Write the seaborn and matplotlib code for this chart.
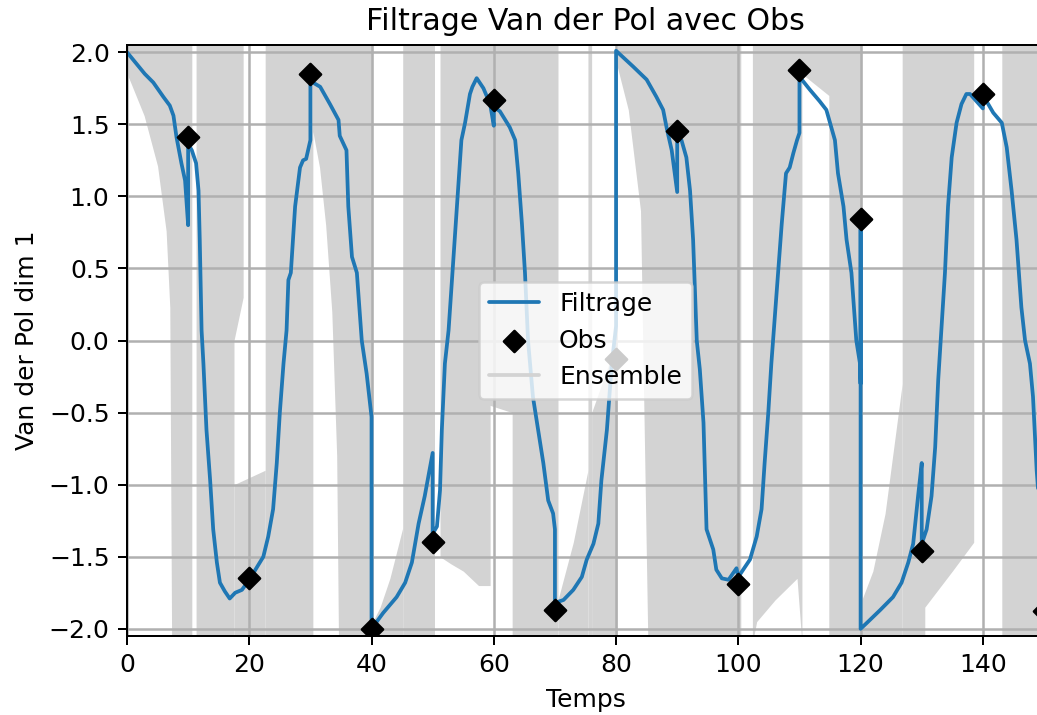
import numpy as np
import pandas as pd
import matplotlib
matplotlib.use("Agg")
import matplotlib.pyplot as plt
from matplotlib.lines import Line2D
import seaborn as sns

# observations (every 10 time units)
obs_t = [10, 20, 30, 40, 50, 60, 70, 80, 90, 100, 110, 120, 130, 140, 150]
obs_y = [1.41, -1.65, 1.85, -2.00, -1.40, 1.67, -1.87, -0.13, 1.45, -1.69,
         1.88, 0.84, -1.46, 1.71, -1.88]

# filtered trajectory (repeated times = analysis jumps)
filt_t = [0.0, 2.9, 4.3, 5.95, 7.0, 7.6, 8.1, 8.9, 9.5, 10.0, 10.0, 10.6, 11.3, 11.7,
          11.9, 12.2, 12.5, 13.0, 13.6, 14.1, 14.7, 15.2, 16.0, 16.8, 17.7, 18.8,
          20.0, 22.3, 23.1, 23.9, 24.5, 25.0, 25.6, 26.1, 26.4, 26.8, 27.5, 28.3,
          28.8, 29.3, 30.0, 30.0, 31.6, 33.2, 34.6, 34.8, 35.9, 36.2, 36.8, 37.6,
          38.4, 39.2, 40.0, 40.0, 41.9, 44.1, 45.5, 46.6, 47.7, 48.7, 50.0, 50.0,
          50.7, 51.2, 51.5, 52.0, 52.6, 53.6, 54.7, 55.3, 56.1, 56.5, 57.2, 58.3,
          59.4, 60.0, 60.0, 61.0, 62.6, 63.5, 64.0, 64.6, 65.1, 65.6, 66.4, 67.5,
          68.1, 68.9, 69.7, 70.0, 70.0, 71.4, 73.0, 74.4, 75.2, 76.3, 77.1, 77.6,
          78.5, 79.3, 80.0, 80.0, 82.8, 85.0, 86.6, 87.7, 88.3, 89.1, 90.0, 90.0,
          90.7, 91.5, 92.1, 92.6, 93.2, 93.7, 94.3, 94.8, 95.9, 96.4, 97.3, 98.4,
          99.7, 100.0, 101.9, 103.0, 103.8, 104.3, 104.9, 105.4, 105.8, 106.5,
          107.1, 107.8, 108.4, 109.0, 109.6, 110.0, 110.0, 111.7, 113.3, 114.4,
          115.0, 115.8, 116.3, 117.2, 117.7, 118.5, 119.3, 119.9, 120.0, 120.0,
          120.0, 121.0, 123.2, 125.3, 126.7, 127.8, 128.6, 129.4, 130.0, 130.0,
          130.8, 131.6, 132.2, 132.7, 133.2, 133.8, 134.3, 134.9, 135.7, 136.5,
          137.3, 137.9, 140.0, 140.0, 140.6, 141.7, 143.1, 143.9, 144.7, 145.5,
          146.3, 146.9, 147.7, 148.2, 148.8, 149.5, 150.0, 150.0]
filt_y = [2.00, 1.85, 1.79, 1.69, 1.63, 1.56, 1.41, 1.23, 1.11, 0.80, 1.36, 1.32, 1.23, 1.04,
          0.70, 0.07, -0.16, -0.62, -0.97, -1.31, -1.54, -1.68, -1.74, -1.79, -1.75, -1.73,
          -1.66, -1.50, -1.36, -1.17, -0.85, -0.50, -0.16, 0.07, 0.42, 0.47, 0.93, 1.20,
          1.25, 1.26, 1.39, 1.80, 1.76, 1.64, 1.53, 1.42, 1.32, 0.93, 0.58, 0.47,
          0.00, -0.23, -0.53, -2.00, -1.89, -1.78, -1.68, -1.54, -1.27, -1.08, -0.78, -1.34,
          -1.29, -1.04, -0.62, -0.16, 0.07, 0.70, 1.39, 1.51, 1.71, 1.76, 1.82, 1.75,
          1.64, 1.49, 1.62, 1.59, 1.48, 1.39, 1.16, 0.81, 0.47, 0.00, -0.39, -0.69,
          -0.85, -1.11, -1.20, -1.31, -1.82, -1.80, -1.73, -1.64, -1.52, -1.41, -1.27, -0.97,
          -0.62, -0.16, 0.10, 2.01, 1.90, 1.81, 1.69, 1.60, 1.47, 1.32, 1.03, 1.39,
          1.39, 1.27, 1.04, 0.70, 0.00, -0.20, -0.57, -1.31, -1.45, -1.59, -1.65, -1.66,
          -1.58, -1.64, -1.52, -1.36, -1.17, -0.85, -0.50, -0.16, 0.07, 0.47,
          0.81, 1.16, 1.20, 1.30, 1.39, 1.44, 1.83, 1.74, 1.66, 1.60,
          1.51, 1.39, 1.16, 0.93, 0.70, 0.47, 0.00, -0.16, -0.30, 0.77,
          -2.00, -1.96, -1.87, -1.78, -1.68, -1.54, -1.41, -1.08, -0.85, -1.41,
          -1.31, -1.08, -0.74, -0.27, 0.07, 0.47, 0.93, 1.27, 1.51, 1.64,
          1.71, 1.71, 1.61, 1.68, 1.66, 1.58, 1.51, 1.34, 1.04, 0.70,
          0.23, 0.00, -0.16, -0.39, -0.90, -1.30, -1.50, -1.85]

# ensemble spread: upper cluster covers [ens_up_lo, top], lower cluster [bottom, ens_dn_hi]
ens_top, ens_bot = 2.1, -2.1
ens_up_t = [0.0, 0.6, 2.8, 5.0, 6.4, 7.0, 7.3, 10.6, 10.6, 11.3, 11.3, 17.5, 17.5, 19.0,
            19.0, 22.6, 22.6, 30.4, 30.4, 31.5, 32.5, 33.5, 34.3, 34.6, 40.2, 40.2,
            45.1, 45.1, 50.3, 50.3, 51.2, 51.2, 53.0, 55.0, 57.5, 59.4, 59.4, 63.0, 63.0,
            70.5, 70.5, 75.4, 75.4, 76.0, 76.0, 80.2, 80.2, 82.0, 84.0, 85.2, 100.4,
            100.4, 102.3, 102.3, 103.0, 106.0, 109.6, 110.4, 110.4, 114.8, 114.8, 120.2,
            120.2, 126.8, 126.8, 130.5, 130.5, 135.0, 138.5, 138.5, 143.1, 143.1, 150.5]
ens_up_lo = [1.85, 1.79, 1.56, 1.21, 0.76, 0.23, -2.1, -2.1, 2.1, 2.1, -2.1, -2.1, 0.0, 0.3,
             2.1, 2.1, -2.1, -2.1, 1.45, 1.2, 0.8, 0.2, -0.8, -2.1, -2.1, 2.1,
             2.1, -2.1, -2.1, 2.1, 2.1, -1.5, -1.55, -1.6, -1.7, -1.7, -0.45, -0.5, -2.1,
             -2.1, 2.1, 2.1, -2.1, -2.1, 2.1, 2.1, 1.9, 1.6, 0.9, -2.1, -2.1,
             2.1, 2.1, -2.1, -1.95, -1.8, -1.65, -2.1, 1.85, 1.7, -2.1, -2.1,
             2.1, 2.1, -2.1, -2.1, -1.85, -1.6, -1.4, 2.1, 2.1, -2.1, -2.1]
ens_dn_t = [0.0, 17.5, 17.5, 22.6, 22.6, 40.2, 40.2, 41.4, 43.0, 45.1, 45.1, 70.5, 70.5,
            73.0, 75.4, 75.4, 76.0, 76.0, 80.2, 80.2, 120.2, 120.2, 122.0, 124.0,
            126.8, 126.8, 150.5]
ens_dn_hi = [-2.1, -2.1, -1.0, -0.9, -2.1, -2.1, -1.95, -1.85, -1.65, -1.3, -2.1, -2.1, -1.8,
             -1.4, -0.9, -2.1, -2.1, -0.5, 0.0, -2.1, -2.1, -1.8, -1.6, -1.2,
             -0.3, -2.1, -2.1]

sns.set_style("ticks", {"axes.grid": True, "grid.color": "#b0b0b0",
                        "axes.edgecolor": "black", "xtick.color": "black",
                        "ytick.color": "black", "axes.labelcolor": "black",
                        "text.color": "black"})
plt.rcParams["font.family"] = ["DejaVu Sans"]
plt.rcParams.update({"font.size": 10, "axes.titlesize": 12, "axes.labelsize": 10,
                     "xtick.labelsize": 10, "ytick.labelsize": 10,
                     "legend.fontsize": 10, "axes.linewidth": 0.8,
                     "grid.linewidth": 1.0, "xtick.major.size": 3.5,
                     "ytick.major.size": 3.5, "xtick.major.width": 0.8,
                     "ytick.major.width": 0.8, "axes.axisbelow": "line"})

W, H, DPI = 1037, 715, 180
fig = plt.figure(figsize=(W / DPI, H / DPI), dpi=DPI)
ax = fig.add_axes([127 / W, 1 - 636 / H, (1044 - 127) / W, (636 - 45) / H])

ens_gray = "#d3d3d3"
ax.fill_between(ens_up_t, ens_up_lo, ens_top, color=ens_gray, lw=0, zorder=1)
ax.fill_between(ens_dn_t, ens_bot, ens_dn_hi, color=ens_gray, lw=0, zorder=1)

filt = pd.DataFrame({"t": filt_t, "y": filt_y})
obs = pd.DataFrame({"t": obs_t, "y": obs_y})
sns.lineplot(data=filt, x="t", y="y", sort=False, estimator=None, color="#1f77b4",
             lw=1.5, ax=ax, zorder=2, label="Filtrage")
sns.scatterplot(data=obs, x="t", y="y", marker="D", s=36, color="black",
                edgecolor="black", linewidth=1, ax=ax, zorder=3, label="Obs")

ax.set_xlim(0, 150)
ax.set_ylim(-2.05, 2.05)
ax.set_xticks(np.arange(0, 160, 20))
ax.set_yticks(np.arange(-2.0, 2.01, 0.5))
ax.grid(True, color="#b0b0b0", lw=1.0)
ax.set_title("Filtrage Van der Pol avec Obs")
ax.set_xlabel("Temps")
ax.set_ylabel("Van der Pol dim 1")

handles, labels = ax.get_legend_handles_labels()
handles.append(Line2D([], [], color=ens_gray, lw=1.5))
labels.append("Ensemble")
ax.legend(handles, labels, loc="center", framealpha=0.8, edgecolor="0.8",
          fancybox=True)

fig.savefig("out.png", dpi=DPI)
